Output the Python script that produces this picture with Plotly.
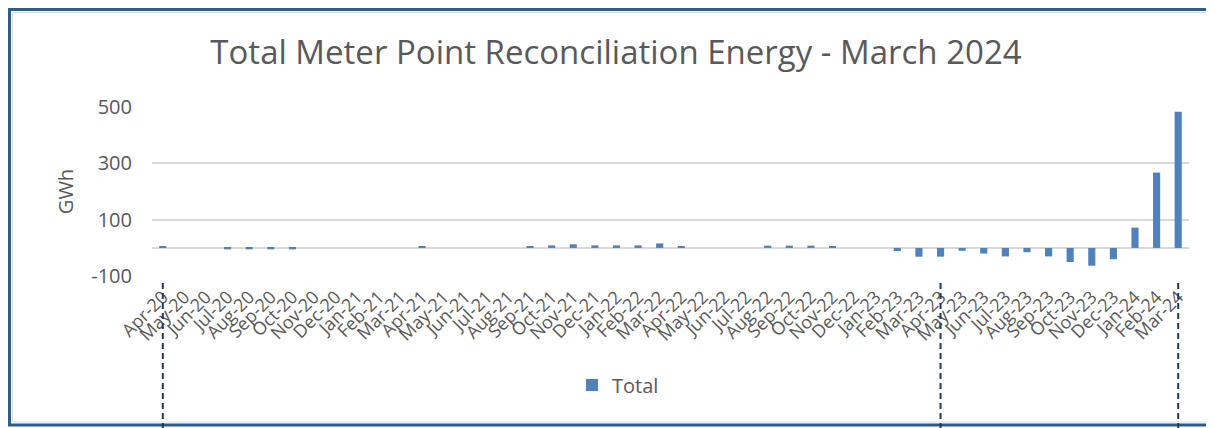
import plotly.graph_objects as go

months = ["Apr-20", "May-20", "Jun-20", "Jul-20", "Aug-20", "Sep-20", "Oct-20", "Nov-20",
          "Dec-20", "Jan-21", "Feb-21", "Mar-21", "Apr-21", "May-21", "Jun-21", "Jul-21",
          "Aug-21", "Sep-21", "Oct-21", "Nov-21", "Dec-21", "Jan-22", "Feb-22", "Mar-22",
          "Apr-22", "May-22", "Jun-22", "Jul-22", "Aug-22", "Sep-22", "Oct-22", "Nov-22",
          "Dec-22", "Jan-23", "Feb-23", "Mar-23", "Apr-23", "May-23", "Jun-23", "Jul-23",
          "Aug-23", "Sep-23", "Oct-23", "Nov-23", "Dec-23", "Jan-24", "Feb-24", "Mar-24"]

total_gwh = [6, 0, 0, -5, -5, -5, -5, 0,
             0, 0, 0, 0, 5, 0, 0, 0,
             0, 4, 9, 13, 9, 9, 9, 16,
             4, 0, 0, 0, 8, 8, 8, 4,
             0, 0, -11, -31, -31, -10, -20, -30,
             -15, -30, -50, -63, -40, 72, 267, 483]

marker_months = ["Apr-20", "Apr-23", "Mar-24"]

y_ticks = [-100, 100, 300, 500]

# page body has an 8px margin: figure occupies window from (8, 8)
OFF = 8
W, H = 1214 - OFF, 428 - OFF
# plot area in window pixels: x 152..1189, y 106..277
ML = 152 - OFF
MR = 1214 - 1189
MT = 106 - OFF
MB = 428 - 277
PW, PH = W - ML - MR, H - MT - MB

def px_x(p):  # window pixel -> paper x
    return (p - OFF - ML) / PW

def px_y(p):  # window pixel -> paper y
    return (H - MB - (p - OFF)) / PH

GREY = "#595959"
FONT = "Open Sans"

fig = go.Figure()
fig.add_trace(go.Bar(
    x=months, y=total_gwh, name="Total",
    marker=dict(color="#4F81BD", line=dict(width=0)),
    showlegend=True,
))

shapes = []
# outer frame
shapes.append(dict(type="rect", xref="paper", yref="paper",
                   x0=px_x(9.5), x1=px_x(1230), y0=px_y(425), y1=px_y(9.6),
                   line=dict(color="#2A5D8A", width=3), layer="below"))
shapes.append(dict(type="rect", xref="paper", yref="paper",
                   x0=px_x(12.5), x1=px_x(1230), y0=px_y(422), y1=px_y(12.5),
                   line=dict(color="#DDDDDD", width=1), layer="below"))
for m in marker_months:
    shapes.append(dict(type="line", xref="x", yref="paper",
                       x0=m, x1=m, y0=px_y(283), y1=px_y(430),
                       line=dict(color="#1F3864", width=2, dash="6px,4px")))

fig.update_layout(
    width=W, height=H,
    margin=dict(l=ML, r=MR, t=MT, b=MB, autoexpand=False),
    paper_bgcolor="white", plot_bgcolor="white",
    font=dict(family=FONT, color=GREY),
    title=dict(text="Total Meter Point Reconciliation Energy - March 2024",
               x=(616 - OFF) / W, xanchor="center", y=1 - (52 - OFF) / H, yanchor="middle",
               font=dict(family=FONT, size=33, color=GREY)),
    bargap=0.67,
    showlegend=True,
    legend=dict(orientation="h", x=px_x(572), xanchor="left", y=px_y(385), yanchor="middle",
                font=dict(family=FONT, size=20, color=GREY), itemwidth=30,
                bgcolor="rgba(0,0,0,0)"),
    shapes=shapes,
    xaxis=dict(type="category", categoryorder="array", categoryarray=months,
               tickmode="array", tickvals=months, ticktext=months,
               tickangle=-45, tickfont=dict(family=FONT, size=18, color=GREY),
               ticklabelstandoff=5,
               showgrid=False, showline=False, ticks="", range=[-0.5, len(months) - 0.5],
               fixedrange=True, automargin=False),
    yaxis=dict(range=[-103, 503], tickvals=y_ticks, ticktext=[str(v) for v in y_ticks],
               showgrid=True, gridcolor="#D9D9D9", gridwidth=2,
               zeroline=True, zerolinecolor="#D9D9D9", zerolinewidth=2,
               tickfont=dict(family=FONT, size=20, color=GREY), ticklabelstandoff=19,
               title=dict(text="GWh", font=dict(family=FONT, size=20, color=GREY), standoff=12),
               showline=False, ticks="", fixedrange=True, automargin=False),
)

fig.write_html("out.html")
